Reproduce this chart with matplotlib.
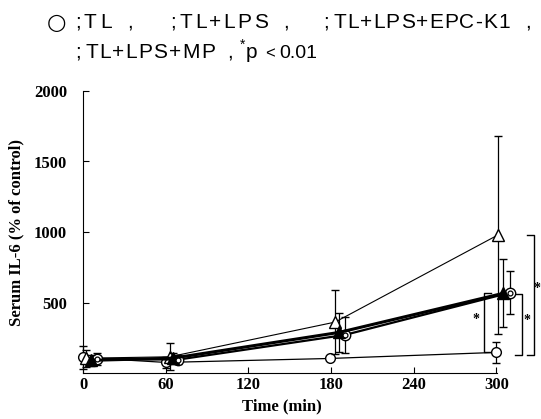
import matplotlib.pyplot as plt

# time points (min), slightly staggered per group as in the original figure
t_tl = [0, 60, 179, 300]
t_lps = [2, 63, 183, 301]
t_epc = [6, 65, 186, 305]
t_mp = [10, 69, 190, 310]

# serum IL-6 (% of control) and SD
tl = [110, 75, 103, 146]
tl_sd = [80, 40, 0, 75]
lps = [105, 115, 361, 978]
lps_sd = [60, 95, 225, 700]
epc = [90, 105, 288, 565]
epc_sd = [40, 40, 140, 240]
mp = [100, 95, 270, 570]
mp_sd = [40, 30, 125, 150]

xticks = [0, 60, 120, 180, 240, 300]
yticks = [500, 1000, 1500, 2000]

serif = 'Liberation Serif'
sans = 'Liberation Sans'
W, H = 541, 419

fig = plt.figure(figsize=(W / 100, H / 100), dpi=100)
ax = fig.add_axes([83 / W, 1 - 373 / H, 414 / W, 282 / H])

ekw = dict(ecolor='black', elinewidth=0.9, capsize=3, capthick=0.9)
series = [
    (t_tl, tl, tl_sd, 'o', 0.9, 7, 'white', 3),
    (t_lps, lps, lps_sd, '^', 0.8, 8.5, 'white', 4),
    (t_epc, epc, epc_sd, '^', 2.2, 8, 'black', 5),
    (t_mp, mp, mp_sd, 'o', 1.6, 7.5, 'white', 4),
]
for t, v, sd, m, lw, ms, fc, z in series:
    _, caps, bars = ax.errorbar(t, v, yerr=sd, fmt=m + '-', color='black', lw=lw, ms=ms,
                                mfc=fc, mec='black', mew=1.0, zorder=z, **ekw)
    for a in [*caps, *bars]:
        a.set_clip_on(False)
ax.plot(t_mp, mp, 'o', ms=3.5, mfc='white', mec='black', mew=0.9, zorder=6)
for ln in ax.lines:
    ln.set_clip_on(False)


# significance brackets at 300 min
def bracket(x, y0, y1, tip):
    ax.plot([x + tip, x, x, x + tip], [y1, y1, y0, y0], color='black', lw=1.0, clip_on=False)


def star(x, y):
    ax.text(x, y, '*', fontsize=10, ha='center', va='center', family=serif,
            weight='bold', clip_on=False)


bracket(291, 150, 570, 5.5)
bracket(319, 130, 560, -5.5)
bracket(327, 130, 978, -4.5)
star(285.5, 380)
star(322.5, 375)
star(329.5, 600)

ax.set_xlim(0, 300.5)
ax.set_ylim(0, 2000)
ax.set_xticks(xticks)
ax.set_yticks(yticks)
ax.spines['top'].set_visible(False)
ax.spines['right'].set_visible(False)
ax.tick_params(direction='in', length=4, width=0.8)
ax.tick_params(axis='y', pad=11.5)
ax.tick_params(axis='x', pad=3)
for lab in ax.get_xticklabels() + ax.get_yticklabels():
    lab.set_family(serif)
    lab.set_weight('bold')
    lab.set_fontsize(12)

ax.set_xlabel('Time (min)', family=serif, weight='bold', fontsize=12)
ax.xaxis.set_label_coords((282 - 83) / 414, (373 - 398) / 282)
ax.set_ylabel('Serum IL-6 (% of control)', family=serif, weight='bold', fontsize=12)
ax.yaxis.set_label_coords((24 - 83) / 414, 0.5)

# legend header, set with the wide letter spacing of the original
renderer = fig.canvas.get_renderer()


def tracked(x0, x1, y, s, size=15, family=sans):
    arts = [fig.text(0, 0, ch, fontsize=size, family=family, va='baseline') for ch in s]
    widths = [a.get_window_extent(renderer).width for a in arts]
    gap = (x1 - x0 - sum(widths)) / (len(s) - 1) if len(s) > 1 else 0
    x = x0
    for a, w in zip(arts, widths):
        a.set_position((x / W, 1 - y / H))
        x += w + gap


fig.text(47 / W, 1 - 29 / H, '\u25cb', fontsize=16, family='DejaVu Sans', va='baseline')
tracked(75, 78, 28, ';')
tracked(83, 112, 28, 'TL')
tracked(127, 130, 28, ',')
tracked(170, 173, 28, ';')
tracked(180, 268, 28, 'TL+LPS')
tracked(283, 286, 28, ',')
tracked(323, 326, 28, ';')
tracked(333, 510, 28, 'TL+LPS+EPC-K1')
tracked(525, 528, 28, ',')

tracked(75, 78, 58, ';')
tracked(85, 215, 58, 'TL+LPS+MP')
tracked(227, 230, 58, ',')
fig.text(240 / W, 1 - 49 / H, '*', fontsize=10, family=sans, va='baseline')
fig.text(246 / W, 1 - 58 / H, 'p', fontsize=15, family=sans, va='baseline')
fig.text(265 / W, 1 - 58 / H, '<', fontsize=12, family=sans, va='baseline')
fig.text(279 / W, 1 - 58 / H, '0.01', fontsize=14, family=sans, va='baseline')

plt.savefig('out.png', dpi=100)
